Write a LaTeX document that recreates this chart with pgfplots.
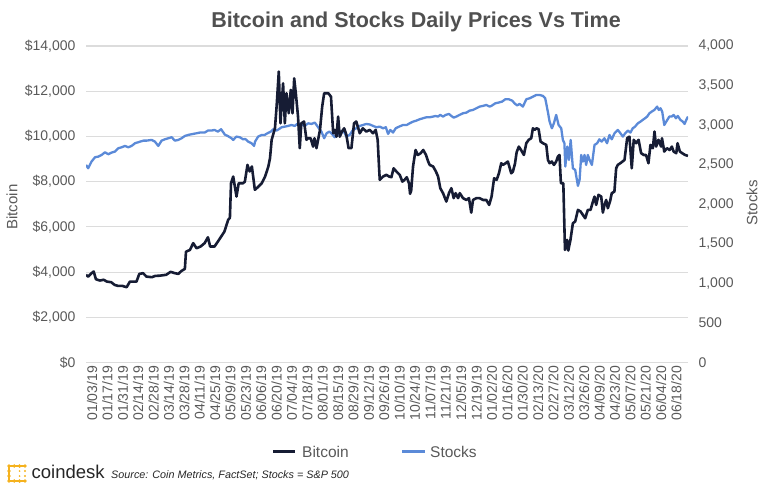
\documentclass[border=0pt]{standalone}
\usepackage{fontspec}
\setmainfont{Liberation Sans}
\usepackage{pgfplots}
\pgfplotsset{compat=1.18}

\definecolor{btc}{HTML}{161C34}
\definecolor{spx}{HTML}{5B8AD8}
\definecolor{txt}{HTML}{595959}
\definecolor{grd}{HTML}{DCDCDC}
\definecolor{cdy}{HTML}{F5B21E}

% x = days counted from 01/03/19
\pgfplotsset{
  base/.style={
    at={(86pt,-362.5pt)}, anchor=south west,
    scale only axis, width=602pt, height=316.5pt,
    xmin=0, xmax=548,
    axis line style={draw=none}, major tick length=0pt,
    scaled x ticks=false, scaled y ticks=false,
    ticklabel style={font=\fontsize{14}{16}\selectfont, text=txt},
  },
}

\begin{document}
\begin{tikzpicture}[x=1pt,y=1pt]
\useasboundingbox (0,0) rectangle (775,-489);

% grid, left axis and dates
\begin{axis}[base,
  ymin=0, ymax=14000,
  ytick={0,2000,...,14000},
  yticklabels={{\$0},{\$2,000},{\$4,000},{\$6,000},{\$8,000},{\$10,000},{\$12,000},{\$14,000}},
  yticklabel style={xshift=-7pt},
  ymajorgrids, major grid style={grd, line width=1.1pt},
  xtick={0,14,...,532},
  xticklabels={01/03/19,01/17/19,01/31/19,02/14/19,02/28/19,03/14/19,03/28/19,04/11/19,04/25/19,05/09/19,05/23/19,06/06/19,06/20/19,07/04/19,07/18/19,08/01/19,08/15/19,08/29/19,09/12/19,09/26/19,10/10/19,10/24/19,11/07/19,11/21/19,12/05/19,12/19/19,01/02/20,01/16/20,01/30/20,02/13/20,02/27/20,03/12/20,03/26/20,04/09/20,04/23/20,05/07/20,05/21/20,06/04/20,06/18/20},
  xticklabel style={rotate=90, anchor=east, yshift=-6pt},
]
\end{axis}

% stocks, right axis
\begin{axis}[base,
  ymin=0, ymax=4000,
  axis x line=none, axis y line*=right,
  ytick={0,500,...,4000},
  yticklabels={0,500,{1,000},{1,500},{2,000},{2,500},{3,000},{3,500},{4,000}},
  yticklabel style={xshift=7pt},
]
\addplot[spx, line width=2.3pt, line join=round] table {
d s
0 2497
2 2455
5 2539
8.2 2594
11.2 2602
14.2 2623
17.3 2657
20.3 2632
23.3 2653
26.4 2666
29.4 2708
32.4 2720
35.5 2737
38.5 2720
41.5 2737
44.6 2771
48.5 2788
52.2 2804
55 2804
59.7 2813
62.7 2792
65.8 2737
68.8 2804
71.8 2821
74.9 2834
78 2847
80.9 2804
84 2813
87 2834
90 2863
93 2876
97.6 2889
100.6 2897
103.7 2906
108 2906
111 2931
114 2931
117 2939
120 2918
123 2948
126.4 2880
129.4 2860
132.5 2834
134 2813
137 2855
140 2847
143 2821
145 2825
147.6 2792
150.7 2771
153 2737
153.9 2792
156.7 2855
160 2876
162.6 2876
165.2 2897
168.2 2918
170.4 2948
173.4 2931
175.5 2948
178 2973
181 2981
184 2990
187 3002
190 2990
193 3023
196 3011
199 2990
202.2 3023
205.2 3015
208.3 3032
211.3 2973
214.3 2918
216.8 2834
219 2897
221.5 2918
223.4 2897
226.4 2847
228.7 2897
231 2876
234 2939
237 2855
240 2876
243 2939
246 2960
249.2 2990
252.2 3002
255.2 3015
258.3 3008
261.3 2990
264.4 2973
267.4 2981
270.4 2960
272.9 2973
275 2889
277 2939
279.5 2906
281.9 2960
285 2981
288.6 3002
292 3002
294.6 3023
297.7 3044
300.7 3057
303.7 3074
306.8 3087
309.8 3099
312.8 3099
315.9 3108
318.2 3116
320.4 3108
322.5 3129
325 3108
327.4 3129
330.4 3141
332.6 3116
334.7 3095
337.1 3108
340 3129
343.2 3150
346.2 3158
349.2 3183
352.3 3192
355.3 3213
358.3 3234
361.4 3243
364.4 3255
367.4 3234
369 3243
372.6 3276
375.6 3285
378.7 3297
381.7 3327
384.8 3327
387.9 3310
390.5 3270
392.5 3250
394.7 3268
397.7 3234
400.8 3327
403.8 3339
406.8 3360
409.9 3381
412.9 3381
416 3369
418 3339
420.4 3171
422 3044
424.1 2960
425.9 3023
428 3129
430.2 3002
432.6 2960
434.1 2813
435.5 2771
436.3 2476
438.1 2729
439.6 2560
441.2 2813
443.2 2455
445.3 2434
447.8 2232
449.3 2308
450.8 2623
452.3 2539
453.8 2623
455.3 2497
456.8 2623
458.4 2560
460.5 2497
462.9 2750
465.3 2771
467.3 2821
469.4 2792
471.9 2834
474.3 2771
476.5 2876
478.6 2821
481.1 2897
484.1 2939
486.5 2897
488.7 2855
490.8 2897
493.2 2931
495.6 2906
497.7 2960
499.8 2981
502.3 3023
504.7 3044
506.8 3066
508.9 3087
510.8 3108
512.9 3150
515 3171
517.4 3192
519.9 3234
521.4 3192
523 3213
524.5 3171
526.4 3002
528.2 3044
531 3108
533.1 3108
534.9 3129
537 3087
538.7 3116
541.1 3066
543.3 3044
544.9 3015
546.4 3066
548 3108
};
\end{axis}

% bitcoin, drawn on top
\begin{axis}[base, hide axis, ymin=0, ymax=14000]
\addplot[btc, line width=2.6pt, line join=round] table {
d v
0 3877
2 3800
5 3950
7 4024
9 3685
12.7 3626
16 3660
19 3580
23 3550
26 3434
29 3390
33 3390
37 3330
40 3580
46 3580
48.5 3920
52 3950
55 3800
60 3773
63 3830
67 3840
73 3880
77 4010
81 3950
84 3920
87 4053
90 4140
91 4900
94.6 4980
97.6 5280
100.6 5055
104.3 5130
108 5280
111 5540
113 5130
117 5130
121 5420
126 5790
129.4 6310
131 6400
132 7930
134 8225
137 7340
139 7930
143 7930
144.6 8000
147 8740
149 8450
151 8670
153.7 7640
157 7780
160 7930
163 8225
166 8670
167.5 9036
169 9850
172 10360
173.5 11320
175.5 12870
177 10580
179.4 12350
181 10580
182.5 11910
184.6 11025
186.4 12060
188 11025
189.5 12570
191 11910
193 10880
194.6 9480
196 10580
198.5 10660
200.7 9850
202 9920
204.5 9920
206.7 9550
208 9920
209.8 9480
213 10290
215 11320
216.8 11910
220.6 11910
223 11760
225 10140
226.5 10290
228 9990
229.5 10880
231 9990
233 10215
235 10360
237 10070
239 9480
241.6 9480
244 10580
246 10660
249.2 10140
252 10360
255.2 10215
258.3 10290
261.3 10140
263.7 10290
265.5 9850
266.8 8590
267.4 8080
270.4 8225
273.4 8300
276 8225
278 8195
280 8590
282.5 8450
285.6 8300
288 8000
290 8080
292 8195
294 7930
295 7460
296 7600
297.7 8670
300 9400
302 9180
304.5 9250
307 9400
309.5 9180
311.5 8890
312.8 8740
316 8670
318.5 8450
320.5 8225
322.5 7710
325 7490
328 7120
330.4 7490
332.6 7710
334.7 7270
336.5 7490
338.7 7270
340.2 7490
343.2 7270
346.2 7190
348.6 7270
350.7 6630
352.3 7190
355.3 7270
358.3 7270
361.4 7190
364.4 7190
367 6970
369.2 7340
371.5 8150
373.8 8080
375.9 8370
378 8815
379.5 8740
382 8815
384 8890
387.1 8370
388.6 8445
390.5 8800
392 9300
394 9550
396 9400
398.6 9180
400.8 9700
403 9850
405.3 9920
406.8 10360
408.5 10290
410 10360
412 10320
413.8 9770
416 9700
419 9625
420.5 8960
422 8815
424 8890
426 8740
428 8890
429.6 9110
431 9180
432.3 7930
434.5 7930
436 4980
438 5425
439 4950
441 5425
443.2 6160
445.3 6235
447.8 6750
450.2 6680
452.3 6530
454.4 6380
456.8 6750
459.3 6750
461 7045
462.9 7340
464.4 6970
466.5 7415
469 7340
470.5 6630
472 6970
473.5 7190
475 6825
477 7120
478.6 7490
481 7560
482.6 8590
484.1 8740
487.2 8845
490.2 8960
492.6 9920
494.7 9990
496.8 8590
498.6 9850
500.8 9700
503 9850
505.3 9260
507.7 9180
509.8 9180
512 8815
513.8 9625
516 9480
517.5 10215
519 9550
521.1 9850
523.5 9550
524.3 9920
526.4 9330
528.8 9480
531.2 9400
533.3 9550
534.9 9330
537.3 9260
538.5 9700
540.6 9330
542.7 9260
545.3 9180
548 9140
};
\end{axis}

% title and axis titles
\node[font=\bfseries\fontsize{21.5}{24}\selectfont, text=txt!90!black] at (416,-22) {Bitcoin and Stocks Daily Prices Vs Time};
\node[rotate=90, font=\fontsize{15}{17}\selectfont, text=txt] at (12,-207) {Bitcoin};
\node[rotate=90, font=\fontsize{15}{17}\selectfont, text=txt] at (752,-203) {Stocks};

% legend
\draw[btc, line width=3pt] (273,-451.7) -- (295,-451.7);
\node[anchor=west, inner sep=0pt, font=\fontsize{15.5}{17}\selectfont, text=txt] at (302,-451.7) {Bitcoin};
\draw[spx, line width=3pt] (402,-451.7) -- (425,-451.7);
\node[anchor=west, inner sep=0pt, font=\fontsize{15.5}{17}\selectfont, text=txt] at (430,-451.7) {Stocks};

% footer: logo, brand, source
\begin{scope}[cdy]
  \draw[line width=1.2pt] (9,-466) -- (25,-466) (9,-481) -- (25,-481) (9,-466) -- (9,-481);
  \foreach \p in {(9,-466),(14.3,-466),(19.6,-466),(25,-466),(9,-471),(9,-476),(9,-481),(14.3,-481),(19.6,-481),(25,-481)}
    \fill \p circle (1.9pt);
  \fill (25,-471) circle (1.1pt) (25,-476) circle (1.1pt) (19.6,-471) circle (0.9pt) (19.6,-476) circle (0.9pt);
\end{scope}
\node[anchor=base west, inner sep=0pt, font=\fontsize{18.5}{20}\selectfont, text=black!85] at (31.5,-478.5) {coindesk};
\node[anchor=base west, inner sep=0pt, font=\itshape\fontsize{10.8}{12}\selectfont, text=black!85] at (111,-478) {Source: Coin Metrics, FactSet; Stocks = S\&P 500};
\end{tikzpicture}
\end{document}
